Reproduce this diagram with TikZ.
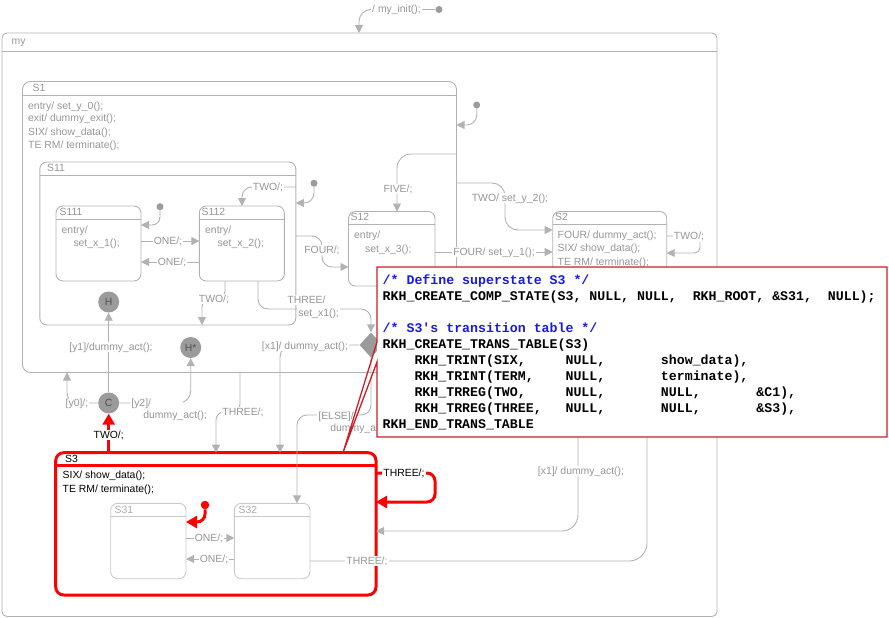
\documentclass[tikz,border=0pt]{standalone}
\usepackage{fontspec}
\setmainfont{Liberation Sans}
\setmonofont{Liberation Mono}
\usetikzlibrary{arrows.meta,shapes.geometric}
\definecolor{ln}{RGB}{178,178,178}
\definecolor{tx}{RGB}{150,150,150}
\definecolor{lt}{RGB}{202,202,202}
\definecolor{ltx}{RGB}{172,172,172}
\definecolor{pk}{RGB}{155,155,155}
\definecolor{pkt}{RGB}{80,80,80}
\definecolor{cr}{RGB}{200,30,40}
\definecolor{cb}{RGB}{25,25,235}
\definecolor{rd}{RGB}{255,0,0}
\begin{document}
\begin{tikzpicture}[x=1pt,y=-1pt,
  font=\fontsize{10.4}{12}\selectfont,
  st/.style={draw=ln, line width=0.9pt, rounded corners=7pt, inner sep=0pt, outer sep=0pt},
  stl/.style={draw=lt, line width=0.9pt, rounded corners=7pt, inner sep=0pt, outer sep=0pt},
  hd/.style={draw=ln, line width=0.9pt},
  txt/.style={text=tx, inner sep=0pt, anchor=west, text height=7pt, text depth=1pt},
  tr/.style={draw=ln, line width=0.9pt, rounded corners=10pt, -{Triangle[length=8pt,width=8pt]}},
  lbl/.style={fill=white, text=tx, inner sep=1.2pt, text height=7pt, text depth=1pt},
  pseudo/.style={circle, fill=pk, inner sep=0pt, minimum size=21pt, text=pkt},
  dot/.style={circle, fill=pk, inner sep=0pt, minimum size=7pt},
  rtr/.style={draw=rd, line width=3pt, rounded corners=8pt, -{Triangle[length=11pt,width=12pt]}},
  cd/.style={inner sep=0pt, anchor=base west, font=\fontsize{13.25}{16}\selectfont\ttfamily\bfseries}
]
\useasboundingbox (0,0) rectangle (889,618);

% ---------- states ----------
\node[st, rounded corners=5pt, minimum width=715pt, minimum height=583.5pt] (my) at (359.5,324.75) {};
\draw[hd] (my.west |- 0,51) -- (my.east |- 0,51);
\node[txt] (myL) at (11.5,42) {my};

\node[st, rounded corners=8pt, minimum width=434pt, minimum height=291pt] (S1) at (239.5,227) {};
\draw[hd] (S1.west |- 0,95) -- (S1.east |- 0,95);
\node[txt] (S1L) at (32.5,88.5) {S1};
\node[txt] (s1a) at (28,107) {entry/ set\_y\_0();};
\node[txt] (s1b) at (28,118.5) {exit/ dummy\_exit();};
\node[txt] (s1c) at (28,132) {SIX/ show\_data();};
\node[txt] (s1d) at (28,145) {TE RM/ terminate();};

\node[st, minimum width=256pt, minimum height=163pt] (S11) at (167.8,243.5) {};
\draw[hd] (S11.west |- 0,175) -- (S11.east |- 0,175);
\node[txt] (S11L) at (47,168.5) {S11};

\node[st, minimum width=85pt, minimum height=75pt] (S111) at (98.5,243.5) {};
\draw[hd] (S111.west |- 0,219.3) -- (S111.east |- 0,219.3);
\node[txt] (S111L) at (59.5,212.7) {S111};
\node[txt] (s111a) at (61.5,230) {entry/};
\node[txt] (s111b) at (73.3,243) {set\_x\_1();};

\node[st, minimum width=85pt, minimum height=75pt] (S112) at (241.8,243.5) {};
\draw[hd] (S112.west |- 0,219.3) -- (S112.east |- 0,219.3);
\node[txt] (S112L) at (201.5,212.7) {S112};
\node[txt] (s112a) at (205,230) {entry/};
\node[txt] (s112b) at (217.5,243) {set\_x\_2();};

\node[st, minimum width=86.5pt, minimum height=74.5pt] (S12) at (391.75,248.75) {};
\draw[hd] (S12.west |- 0,224) -- (S12.east |- 0,224);
\node[txt] (S12L) at (350.5,217.5) {S12};
\node[txt] (s12a) at (354,235.5) {entry/};
\node[txt] (s12b) at (365,249) {set\_x\_3();};

\node[st, minimum width=114pt, minimum height=89pt] (S2) at (609.7,256) {};
\draw[hd] (S2.west |- 0,224) -- (S2.east |- 0,224);
\node[txt] (S2L) at (555,217.5) {S2};
\node[txt] (s2a) at (557.5,235) {FOUR/ dummy\_act();};
\node[txt] (s2b) at (557.5,248.5) {SIX/ show\_data();};
\node[txt] (s2c) at (557.5,262) {TE RM/ terminate();};

\node[draw=rd, line width=3pt, rounded corners=8pt, inner sep=0pt, outer sep=0pt,
      minimum width=320.3pt, minimum height=142.3pt] (S3) at (215.85,523.85) {};
\draw[draw=rd, line width=3pt] (S3.west |- 0,465) -- (S3.east |- 0,465);
\node[txt, text=black] (S3L) at (65,459.3) {S3};
\node[txt, text=black] (s3a) at (62.5,475.5) {SIX/ show\_data();};
\node[txt, text=black] (s3b) at (62.5,489) {TE RM/ terminate();};

\node[stl, minimum width=75.3pt, minimum height=75.4pt] (S31) at (148.35,541) {};
\draw[draw=lt, line width=0.9pt] (S31.west |- 0,516.7) -- (S31.east |- 0,516.7);
\node[txt, text=ltx] (S31L) at (114.5,510.7) {S31};

\node[stl, minimum width=75.7pt, minimum height=75.4pt] (S32) at (272.15,541) {};
\draw[draw=lt, line width=0.9pt] (S32.west |- 0,516.7) -- (S32.east |- 0,516.7);
\node[txt, text=ltx] (S32L) at (238.5,510.7) {S32};

% ---------- pseudostates ----------
\node[dot] (i0) at (439,9.5) {};
\node[dot] (i1) at (476.7,105) {};
\node[dot] (i2) at (314,183.3) {};
\node[dot] (i3) at (160,206.7) {};
\node[circle, fill=rd, inner sep=0pt, minimum size=8.5pt] (i4) at (205,505) {};
\node[pseudo] (H) at (108.7,302) {H};
\node[pseudo] (Hs) at (190.7,347.5) {H*};
\node[pseudo] (C) at (108.7,403) {C};
\node[diamond, fill=pk, inner sep=0pt, minimum width=23pt, minimum height=25pt] (D) at (371,345) {};

% ---------- transitions ----------
\draw[tr, rounded corners=12pt] (i0) -- (359,9.5) -- (359,0 |- my.north);
\draw[tr] (i1) -- (476.7,125) -- (S1.east |- 0,125);
\draw[tr] (i2) -- (314,203) -- (S11.east |- 0,203);
\draw[tr, rounded corners=8pt] (i3) -- (160,225) -- (S111.east |- 0,225);

\draw[tr] (S111.east |- 0,241) -- (S112.west |- 0,241);
\draw[tr] (S112.west |- 0,262) -- (S111.east |- 0,262);
\draw[tr] (S11.east |- 0,187) -- (242,187) -- (242,0 |- S112.north);
\draw[tr, rounded corners=8pt] (225,0 |- S112.south) -- (225,299) -- (202,299) -- (202,0 |- S11.south);
\draw[tr] (258,0 |- S112.south) -- (258,309) -- (371,309) -- (D.north);
\draw[tr] (S11.east |- 0,236) -- (322,236) -- (322,267) -- (S12.west |- 0,267);
\draw[tr, rounded corners=14pt] (S1.east |- 0,154) -- (397,154) -- (397,0 |- S12.north);
\draw[tr, rounded corners=13pt] (S1.east |- 0,183) -- (505,183) -- (505,230) -- (S2.west |- 0,230);
\draw[tr] (S12.east |- 0,252) -- (S2.west |- 0,252);
\draw[tr, rounded corners=6pt] (S2.east |- 0,236) -- (700,236) -- (700,253) -- (S2.east |- 0,253);

\draw[tr, rounded corners=12pt] (D.west) -- (280,345) -- (280,0 |- S3.north);
\draw[tr] (D.south) -- (371,415) -- (297,415) -- (297,0 |- S32.north);
\draw[tr, rounded corners=16pt] (D.east) -- (578,345) -- (578,531) -- (S3.east |- 0,531);
\draw[tr, rounded corners=18pt] (S32.east |- 0,561) -- (647,561) -- (647,0 |- S2.south);

\draw[tr] (C.west) -- (67,403) -- (67,0 |- S1.south);
\draw[tr] (C.north) -- (H.south);
\draw[tr, rounded corners=12pt] (C.east) -- (190.7,403) -- (Hs.south);
\draw[tr, rounded corners=8pt] (240,0 |- S1.south) -- (240,412) -- (216,412) -- (216,0 |- S3.north);

\draw[rtr] (108.7,0 |- S3.north) -- (C.south);
\draw[rtr] (i4) -- (205,522) -- (S31.east |- 0,522);
\draw[rtr] (S3.east |- 0,473) -- (435,473) -- (435,502) -- (S3.east |- 0,502);

\draw[tr] (S31.east |- 0,538) -- (S32.west |- 0,538);
\draw[tr] (S32.west |- 0,559) -- (S31.east |- 0,559);

% ---------- labels ----------
\node[lbl] (lInit) at (396.5,9.5) {/ my\_init();};
\node[lbl] (lOne1) at (168,241) {ONE/;};
\node[lbl] (lOne2) at (172,262) {ONE/;};
\node[lbl] (lTwo1) at (268,187) {TWO/;};
\node[lbl] (lTwo2) at (214,299) {TWO/;};
\node[lbl, anchor=west] (lThrA) at (286,300) {THREE/};
\node[lbl, anchor=west] (lThrB) at (297,313) {set\_x1();};
\node[lbl] (lFour) at (322,250) {FOUR/;};
\node[lbl] (lFive) at (398,189) {FIVE/;};
\node[lbl] (lTwoY) at (510,198) {TWO/ set\_y\_2();};
\node[lbl] (lFourY) at (494,252) {FOUR/ set\_y\_1();};
\node[lbl] (lTwoS2) at (689,236.5) {TWO/;};
\node[lbl] (lX1a) at (305,346) {[x1]/ dummy\_act();};
\node[lbl, anchor=west] (lElseA) at (317,416) {[ELSE]/};
\node[lbl, anchor=west] (lElseB) at (329,428) {dummy\_a};
\node[lbl] (lX1b) at (581,471) {[x1]/ dummy\_act();};
\node[lbl] (lThrS32) at (367,561) {THREE/;};
\node[lbl] (lY0) at (77,403) {[y0]/;};
\node[lbl] (lY1) at (111,347) {[y1]/dummy\_act();};
\node[lbl, anchor=west, text width=50pt, align=left] (lY2a) at (130,403) {[y2]/};
\node[lbl, anchor=west] (lY2b) at (142,415) {dummy\_act();};
\node[lbl] (lThrS1) at (243,412) {THREE/;};
\node[lbl, text=black] (lTwoR) at (108.7,435) {TWO/;};
\node[lbl, text=black] (lThrR) at (404,473) {THREE/;};
\node[lbl] (lOne3) at (209,538) {ONE/;};
\node[lbl] (lOne4) at (214,559) {ONE/;};

% ---------- callout ----------
\node[fill=white, inner sep=0pt, outer sep=0pt, minimum width=510pt, minimum height=170pt] (note) at (632,352) {};
\draw[draw=cr, line width=1.3pt] (note.west |- 0,362) -- (note.south west) -- (note.south east)
   -- (note.north east) -- (note.north west) -- (note.west |- 0,342) -- (343,0 |- S3.north) -- cycle;
\node[cd, text=cb] (c1) at (382.5,284.5) {/*~Define~superstate~S3~*/};
\node[cd] (c2) at (382.5,300.5) {RKH\_CREATE\_COMP\_STATE(S3,~NULL,~NULL,~~RKH\_ROOT,~\&S31,~~NULL);};
\node[cd, text=cb] (c3) at (382.5,332.5) {/*~S3's~transition~table~*/};
\node[cd] (c4) at (382.5,348.5) {RKH\_CREATE\_TRANS\_TABLE(S3)};
\node[cd] (c5) at (382.5,364.5) {~~~~RKH\_TRINT(SIX,~~~~~NULL,~~~~~~~show\_data),};
\node[cd] (c6) at (382.5,380.5) {~~~~RKH\_TRINT(TERM,~~~~NULL,~~~~~~~terminate),};
\node[cd] (c7) at (382.5,396.5) {~~~~RKH\_TRREG(TWO,~~~~~NULL,~~~~~~~NULL,~~~~~~~\&C1),};
\node[cd] (c8) at (382.5,412.5) {~~~~RKH\_TRREG(THREE,~~~NULL,~~~~~~~NULL,~~~~~~~\&S3),};
\node[cd] (c9) at (382.5,428.5) {RKH\_END\_TRANS\_TABLE};
\end{tikzpicture}
\end{document}
